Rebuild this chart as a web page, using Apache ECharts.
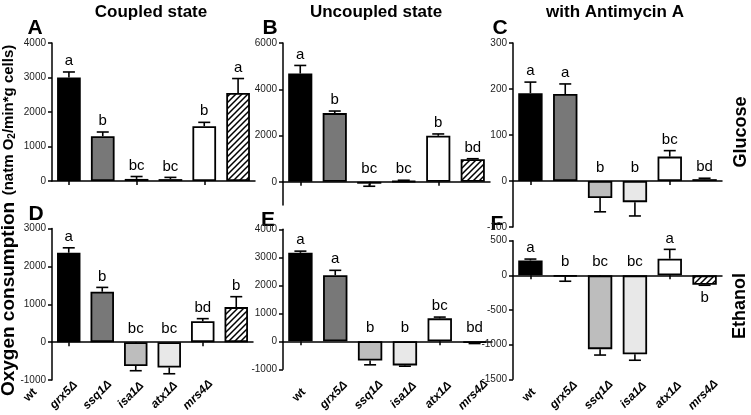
<!DOCTYPE html>
<html><head><meta charset="utf-8">
<script src="https://cdn.jsdelivr.net/npm/echarts@6/dist/echarts.min.js"></script>
<style>html,body{margin:0;padding:0;background:#fff}#c{width:751px;height:415px}</style>
</head><body><div id="c"></div>
<script>
// ---------- data ----------
const categories = ['wt', 'grx5Δ', 'ssq1Δ', 'isa1Δ', 'atx1Δ', 'mrs4Δ'];

const coupledGlucoseMean   = [3000, 1300, 60, 55, 1590, 2550];
const coupledGlucoseErr    = [160, 120, 70, 50, 110, 420];
const coupledGlucoseLetters = ['a', 'b', 'bc', 'bc', 'b', 'a'];

const uncoupledGlucoseMean = [4680, 2970, -80, 30, 1990, 980];
const uncoupledGlucoseErr  = [350, 90, 110, 40, 80, 20];
const uncoupledGlucoseLetters = ['a', 'b', 'bc', 'bc', 'b', 'bd'];

const antimycinGlucoseMean = [191, 189, -37, -46, 53, 4];
const antimycinGlucoseErr  = [24, 22, 30, 30, 13, 2];
const antimycinGlucoseLetters = ['a', 'a', 'b', 'b', 'bc', 'bd'];

const coupledEthanolMean   = [2360, 1330, -630, -670, 550, 925];
const coupledEthanolErr    = [130, 115, 125, 165, 70, 275];
const coupledEthanolLetters = ['a', 'b', 'bc', 'bc', 'bd', 'b'];

const uncoupledEthanolMean = [3160, 2360, -690, -860, 820, -60];
const uncoupledEthanolErr  = [60, 175, 150, 30, 45, 20];
const uncoupledEthanolLetters = ['a', 'a', 'b', 'b', 'bc', 'bd'];

const antimycinEthanolMean = [215, -15, -1065, -1140, 240, -135];
const antimycinEthanolErr  = [20, 70, 85, 85, 135, 8];
const antimycinEthanolLetters = ['a', 'b', 'bc', 'bc', 'a', 'b'];

// tick labels and axis ranges
const ticksA = [0, 1000, 2000, 3000, 4000];          const rangeA = [0, 4000];
const ticksB = [0, 2000, 4000, 6000];                const rangeB = [-1000, 6000];
const ticksC = [-100, 0, 100, 200, 300];             const rangeC = [-100, 300];
const ticksD = [-1000, 0, 1000, 2000, 3000];         const rangeD = [-1000, 3000];
const ticksE = [-1000, 0, 1000, 2000, 3000, 4000];   const rangeE = [-1000, 4000];
const ticksF = [-1500, -1000, -500, 0, 500];         const rangeF = [-1500, 500];

// ---------- styling ----------
const FONT = '"Liberation Sans", Arial, Helvetica, sans-serif';
function hatchCanvas() {
  const s = 6;
  const c = document.createElement('canvas'); c.width = s; c.height = s;
  const g = c.getContext('2d');
  g.fillStyle = '#fff'; g.fillRect(0, 0, s, s);
  g.strokeStyle = '#000'; g.lineWidth = 1.5;
  g.beginPath();
  g.moveTo(-1, s + 1); g.lineTo(s + 1, -1);
  g.moveTo(-1, 1); g.lineTo(1, -1);
  g.moveTo(s - 1, s + 1); g.lineTo(s + 1, s - 1);
  g.stroke();
  return c;
}
const hatch = { image: hatchCanvas(), repeat: 'repeat' };
const barFills = ['#000000', '#787878', '#bdbdbd', '#e8e8e8', '#ffffff', hatch];

const panels = [
  { mean: coupledGlucoseMean, err: coupledGlucoseErr, letters: coupledGlucoseLetters, ticks: ticksA, range: rangeA,
    grid: { left: 52, top: 43, width: 203, height: 138 }, below: [] },
  { mean: uncoupledGlucoseMean, err: uncoupledGlucoseErr, letters: uncoupledGlucoseLetters, ticks: ticksB, range: rangeB,
    grid: { left: 283, top: 43, width: 207, height: 162 }, below: [] },
  { mean: antimycinGlucoseMean, err: antimycinGlucoseErr, letters: antimycinGlucoseLetters, ticks: ticksC, range: rangeC,
    grid: { left: 513, top: 43, width: 209, height: 184 }, below: [] },
  { mean: coupledEthanolMean, err: coupledEthanolErr, letters: coupledEthanolLetters, ticks: ticksD, range: rangeD,
    grid: { left: 52, top: 228.5, width: 201, height: 151.5 }, below: [], labels: { shift: -37 } },
  { mean: uncoupledEthanolMean, err: uncoupledEthanolErr, letters: uncoupledEthanolLetters, ticks: ticksE, range: rangeE,
    grid: { left: 283, top: 229.3, width: 209, height: 140 }, below: [], labels: { shift: 0 } },
  { mean: antimycinEthanolMean, err: antimycinEthanolErr, letters: antimycinEthanolLetters, ticks: ticksF, range: rangeF,
    grid: { left: 513, top: 240.7, width: 209, height: 138.6 }, below: [5], labels: { shift: 0 } }
];

const LABEL_CENTER_Y = 395;   // vertical centre of the rotated category labels
const LABEL_PAD = 4;

const grids = [], xAxes = [], yAxes = [], series = [];
const labelGrids = [];
const axisLineStyle = { color: '#000', width: 1.5 };

panels.forEach((p, k) => {
  grids.push(Object.assign({ outerBoundsMode: 'none', containLabel: false }, p.grid));
  const mainX = xAxes.length;
  xAxes.push({
    type: 'category', gridIndex: k, data: categories, position: 'bottom',
    axisLine: { show: true, onZero: true, lineStyle: axisLineStyle },
    axisTick: { show: true, alignWithLabel: true, length: 4, lineStyle: axisLineStyle },
    axisLabel: { show: false }, splitLine: { show: false }
  });
  if (p.labels) {
    const g = Object.assign({}, p.grid, { left: p.grid.left + p.labels.shift });
    labelGrids.push({ grid: g, range: p.range });
  }
  yAxes.push({
    type: 'value', gridIndex: k, min: p.range[0], max: p.range[1],
    splitLine: { show: false },
    axisLine: { show: true, onZero: false, lineStyle: axisLineStyle },
    axisTick: { show: true, length: 4, lineStyle: axisLineStyle, customValues: p.ticks },
    axisLabel: { show: true, fontSize: 10, color: '#222', margin: 6, fontFamily: FONT,
                 customValues: p.ticks, formatter: v => String(v) }
  });
  series.push({
    type: 'bar', xAxisIndex: mainX, yAxisIndex: k, barCategoryGap: '30%',
    data: p.mean.map((m, i) => ({ value: m, itemStyle: { color: barFills[i], borderColor: '#000', borderWidth: 1.8 } })),
    animation: false, silent: true
  });
  series.push({
    type: 'custom', xAxisIndex: mainX, yAxisIndex: k, animation: false, silent: true, z: 5,
    data: p.mean.map((m, i) => [i, m, p.err[i]]),
    renderItem: (params, api) => {
      const i = api.value(0), m = api.value(1), e = api.value(2);
      const dir = m >= 0 ? 1 : -1;
      const base = api.coord([i, m]);
      const tip = api.coord([i, m + dir * e]);
      const zero = api.coord([i, 0]);
      const st = { stroke: '#000', lineWidth: 1.6 };
      const cap = 6;
      let ly;
      if (p.below.indexOf(i) >= 0) ly = tip[1] + 13;
      else if (dir > 0) ly = tip[1] - 11;
      else ly = zero[1] - 13;
      return {
        type: 'group',
        children: [
          { type: 'line', shape: { x1: base[0], y1: base[1], x2: tip[0], y2: tip[1] }, style: st },
          { type: 'line', shape: { x1: tip[0] - cap, y1: tip[1], x2: tip[0] + cap, y2: tip[1] }, style: st },
          { type: 'text', x: tip[0], y: ly,
            style: { text: p.letters[i], fill: '#000', fontSize: 15, fontFamily: FONT,
                     align: 'center', verticalAlign: 'middle' } }
        ]
      };
    }
  });
});

// label-only grids for the rotated category names of the bottom row
labelGrids.forEach(lg => {
  const gi = grids.length;
  grids.push(Object.assign({ outerBoundsMode: 'none', containLabel: false }, lg.grid));
  yAxes.push({ type: 'value', gridIndex: gi, show: false, min: lg.range[0], max: lg.range[1] });
  const bottom = lg.grid.top + lg.grid.height;
  xAxes.push({
    type: 'category', gridIndex: gi, data: categories, position: 'bottom',
    axisLine: { show: false, onZero: false }, axisTick: { show: false }, splitLine: { show: false },
    axisLabel: {
      show: true, interval: 0, rotate: 45, align: 'center', verticalAlign: 'middle',
      margin: LABEL_CENTER_Y - bottom - LABEL_PAD * 0.354, padding: [0, LABEL_PAD, 0, 0],
      formatter: v => (v === 'wt' ? '{n|' + v + '}' : '{i|' + v + '}'),
      rich: {
        n: { fontSize: 12, fontWeight: 'bold', fontFamily: FONT, color: '#000' },
        i: { fontSize: 12, fontWeight: 'bold', fontStyle: 'italic', fontFamily: FONT, color: '#000' }
      }
    }
  });
});

function txt(text, x, y, size, rot, rich) {
  const style = { text: text, fill: '#000', font: 'bold ' + size + 'px ' + FONT,
    fontSize: size, fontWeight: 'bold', fontFamily: FONT,
    align: 'center', verticalAlign: 'middle' };
  if (rich) style.rich = rich;
  return { type: 'text', x: x, y: y, rotation: rot || 0, style: style, silent: true };
}

const graphics = [
  txt('Coupled state', 151, 12, 17),
  txt('Uncoupled state', 376, 12, 17),
  txt('with Antimycin A', 615, 12, 17),
  txt('A', 35, 28, 21), txt('B', 270, 28, 21), txt('C', 500, 28, 21),
  txt('D', 36, 214, 21), txt('E', 268, 220, 21), txt('F', 497, 224, 21),
  txt('Glucose', 741, 132, 18, Math.PI / 2),
  txt('Ethanol', 740, 306, 18, Math.PI / 2),
  txt('Oxygen consumption', 9, 299, 19, Math.PI / 2),
  txt('(natm O{sub|2}/min*g cells)', 9, 120, 15, Math.PI / 2,
      { sub: { fontSize: 10, fontWeight: 'bold', fontFamily: FONT, verticalAlign: 'bottom', padding: [6, 0, 0, 0] } })
];

const chart = echarts.init(document.getElementById('c'), null, { renderer: 'canvas' });
chart.setOption({
  animation: false,
  backgroundColor: '#fff',
  textStyle: { fontFamily: FONT },
  grid: grids, xAxis: xAxes, yAxis: yAxes, series: series,
  graphic: { elements: graphics }
});
</script></body></html>
